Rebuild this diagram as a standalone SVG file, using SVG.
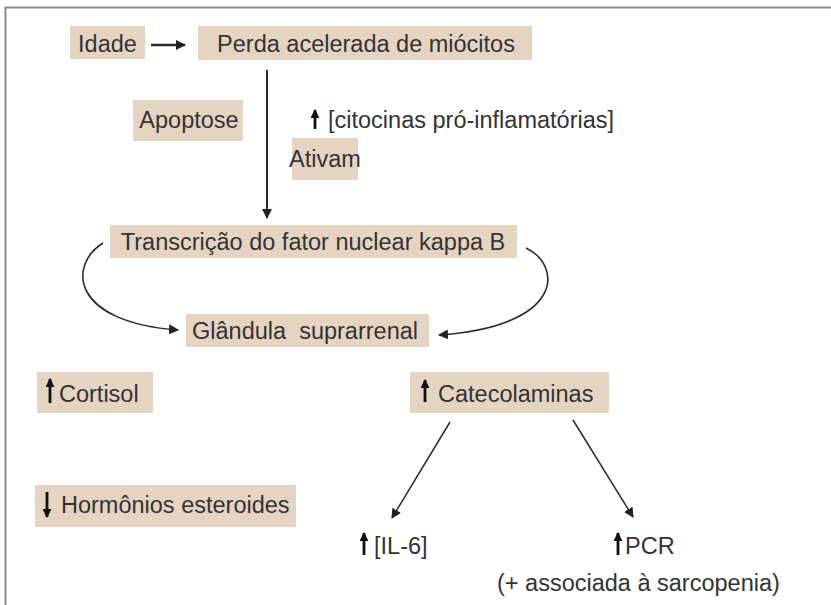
<svg xmlns="http://www.w3.org/2000/svg" width="831" height="605" viewBox="0 0 831 605">
<style>
.box{fill:#e6d4c3}
.t{font-family:"Liberation Sans",Arial,sans-serif;font-size:23.5px;fill:#333}
.m{text-anchor:middle}
.c{fill:none;stroke:#2b2b2b}
.sym{stroke:#111;stroke-width:2.8}
</style>
<defs>
<marker id="ah" viewBox="0 0 10 10" refX="9" refY="5" markerWidth="10" markerHeight="10" markerUnits="userSpaceOnUse" orient="auto">
<path d="M0,0 L10,5 L0,10 z" fill="#222"/>
</marker>
<marker id="ahs" viewBox="0 0 10 10" refX="9" refY="5" markerWidth="9" markerHeight="9" markerUnits="userSpaceOnUse" orient="auto">
<path d="M0,0 L10,5 L0,10 z" fill="#111"/>
</marker>
</defs>
<rect width="831" height="605" fill="#fff"/>
<path d="M5,7.5 H831 M5.5,7 V605" stroke="#8a8a8a" stroke-width="2" fill="none"/>

<g id="connectors">
<line class="c" x1="151" y1="45" x2="185" y2="45" stroke-width="2.5" marker-end="url(#ah)"/>
<line class="c" x1="267" y1="70" x2="267" y2="218" stroke-width="2" marker-end="url(#ah)"/>
<path class="c" d="M103,243 C68,265 70,322 178,330" stroke-width="1.6" marker-end="url(#ah)"/>
<path class="c" d="M526,248 C562,265 566,326 439,335" stroke-width="1.6" marker-end="url(#ah)"/>
<line class="c" x1="450" y1="422" x2="392" y2="518" stroke-width="1.5" marker-end="url(#ah)"/>
<line class="c" x1="573" y1="420" x2="633" y2="517" stroke-width="1.5" marker-end="url(#ah)"/>
</g>

<g id="idade">
<rect class="box" x="70" y="26" width="75" height="33"/>
<text class="t m" x="107.5" y="52">Idade</text>
</g>
<g id="perda">
<rect class="box" x="198" y="26" width="334" height="34"/>
<text class="t m" x="366" y="52">Perda acelerada de miócitos</text>
</g>
<g id="apoptose">
<rect class="box" x="133" y="100" width="110" height="41"/>
<text class="t m" x="189" y="128">Apoptose</text>
</g>
<g id="citocinas">
<line class="sym" x1="315" y1="129" x2="315" y2="110" marker-end="url(#ahs)"/>
<text class="t" x="328" y="128">[citocinas pró-inflamatórias]</text>
</g>
<g id="ativam">
<rect class="box" x="292" y="138" width="66" height="42"/>
<text class="t m" x="325" y="167">Ativam</text>
</g>
<g id="transcricao">
<rect class="box" x="110" y="225" width="407" height="33"/>
<text class="t m" x="313" y="250">Transcrição do fator nuclear kappa B</text>
</g>
<g id="glandula">
<rect class="box" x="186" y="314" width="243" height="33"/>
<text class="t m" x="305" y="339" style="white-space:pre">Glândula  suprarrenal</text>
</g>
<g id="cortisol">
<rect class="box" x="37" y="372" width="116" height="41"/>
<line class="sym" x1="50" y1="403" x2="50" y2="379" marker-end="url(#ahs)"/>
<text class="t" x="59" y="402">Cortisol</text>
</g>
<g id="catecolaminas">
<rect class="box" x="410" y="372" width="199" height="41"/>
<line class="sym" x1="425" y1="402" x2="425" y2="380" marker-end="url(#ahs)"/>
<text class="t" x="438" y="402">Catecolaminas</text>
</g>
<g id="hormonios">
<rect class="box" x="35" y="485" width="261" height="42"/>
<line class="sym" x1="47" y1="492" x2="47" y2="517" marker-end="url(#ahs)"/>
<text class="t" x="61" y="513">Hormônios esteroides</text>
</g>
<g id="il6">
<line class="sym" x1="364" y1="555" x2="364" y2="533" marker-end="url(#ahs)"/>
<text class="t" x="374" y="554">[IL-6]</text>
</g>
<g id="pcr">
<line class="sym" x1="618" y1="555" x2="618" y2="533" marker-end="url(#ahs)"/>
<text class="t" x="625" y="554">PCR</text>
</g>
<g id="sarcopenia">
<text class="t" x="497" y="591">(+ associada à sarcopenia)</text>
</g>
</svg>
